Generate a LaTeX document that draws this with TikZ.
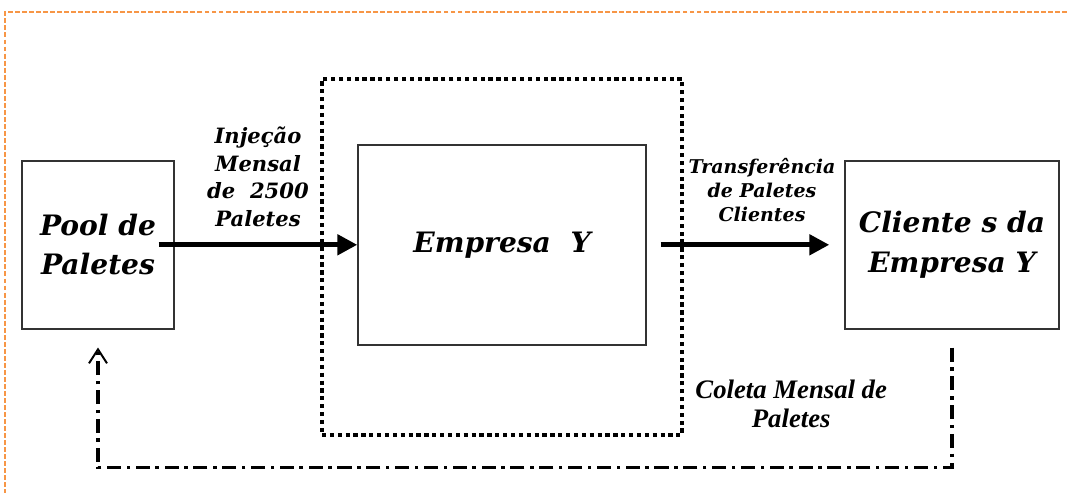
\documentclass[tikz,border=0pt]{standalone}
\usepackage{fontspec}
\setmainfont{DejaVu Serif}
\newfontfamily\estreita{Liberation Serif}
\usetikzlibrary{positioning,arrows.meta}
\definecolor{laranja}{RGB}{247,150,70}

\begin{document}
\begin{tikzpicture}[on grid,
   caixa/.style={draw=black!80,line width=1pt,align=center,
      font=\fontsize{20}{28}\selectfont\bfseries\itshape},
   rotulo/.style={align=center,font=\fontsize{15}{19.5}\selectfont\bfseries\itshape},
   fluxo/.style={line width=3.5pt,-{Triangle[length=5mm,width=5mm]}},
   retorno/.style={line width=2.2pt,dash pattern=on 10pt off 4pt on 2.5pt off 4pt,
      -{Straight Barb[length=3.5mm,width=4.5mm,line width=1.4pt]}}]
   % page and orange frame
   \useasboundingbox (0,0) rectangle (26.675,-12.325);
   \draw[laranja,line width=2pt,dash pattern=on 3.5pt off 1.5pt]
      (26.675,-0.3) -- (0.125,-0.3) -- (0.125,-12.325);
   % blocks
   \node[caixa,minimum width=3.8cm,minimum height=4.2cm] (pool) at (2.45,-6.12) {Pool de\\Paletes};
   \node[caixa,minimum width=7.2cm,minimum height=5cm] (empresa) [right=10.1cm of pool] {Empresa~ Y};
   \node[caixa,minimum width=5.35cm,minimum height=4.2cm] (clientes) [right=11.25cm of empresa] {Cliente s da\\Empresa Y};
   \node[draw,line width=3pt,dash pattern=on 3pt off 2.6pt,minimum width=9cm,minimum height=8.9cm]
      (area) [below=0.3cm of empresa] {};
   % flows
   \draw[fluxo] ([xshift=-0.4cm]pool.east) -- (empresa.west);
   \draw[fluxo] ([xshift=0.35cm]empresa.east) -- ([xshift=-0.375cm]clientes.west);
   \coordinate[below=3.45cm of clientes.south] (fundo);
   \draw[retorno] ([yshift=-0.45cm]clientes.south) -- (fundo) -| ([yshift=-0.45cm]pool.south);
   % labels
   \node[rotulo] (injecao) at (6.45,-4.42) {Injeção\\Mensal\\de~ 2500\\Paletes};
   \node[rotulo,font=\fontsize{13.5}{17}\selectfont\bfseries\itshape] (transf) at (19.05,-4.75)
      {Transferência\\de Paletes\\Clientes};
   \node[rotulo,font=\fontsize{19}{21}\selectfont\estreita\bfseries\itshape] (coleta) at (19.78,-10.1)
      {Coleta Mensal de\\Paletes};
\end{tikzpicture}
\end{document}
